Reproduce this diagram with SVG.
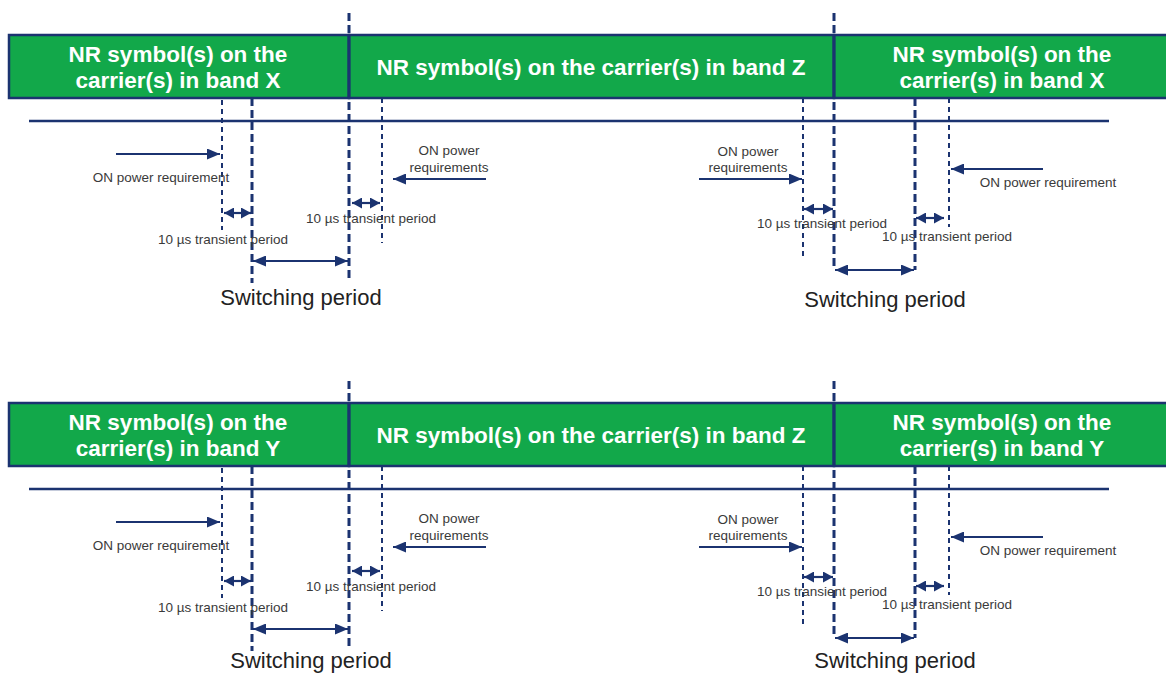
<svg xmlns="http://www.w3.org/2000/svg" width="1166" height="675" viewBox="0 0 1166 675">
<style>
.bar{fill:#12A84A;stroke:#1B3370;stroke-width:2.5}
.div{stroke:#1B3370;stroke-width:3}
.title{font-family:"Liberation Sans",Arial,sans-serif;font-weight:bold;font-size:22.5px;fill:#ffffff;text-anchor:middle}
.tl{stroke:#1B3370;stroke-width:2.5}
.thin{stroke:#1B3370;stroke-width:2;stroke-dasharray:5 4;fill:none}
.thick{stroke:#1B3370;stroke-width:3;stroke-dasharray:8 4;fill:none}
.arr{stroke:#1B3370;stroke-width:2.2;fill:none}
.lbl{font-family:"Liberation Sans",Arial,sans-serif;font-size:13.5px;fill:#3a3a3a;text-anchor:middle}
.big{font-family:"Liberation Sans",Arial,sans-serif;font-size:22px;fill:#222222;text-anchor:middle}
</style>
<defs>
<marker id="ah" viewBox="0 0 13 11" refX="13" refY="5.5" markerWidth="13" markerHeight="11" markerUnits="userSpaceOnUse" orient="auto-start-reverse">
<path d="M0,0 L13,5.5 L0,11 Z" fill="#1B3370"/>
</marker>
<marker id="ahs" viewBox="0 0 10 11" refX="10" refY="5.5" markerWidth="10" markerHeight="11" markerUnits="userSpaceOnUse" orient="auto-start-reverse">
<path d="M0,0 L10,5.5 L0,11 Z" fill="#1B3370"/>
</marker>
</defs>
<rect width="1166" height="675" fill="#ffffff"/>

<g id="panel-top">
<g id="bar-top-x1"><rect class="bar" x="9" y="35" width="340" height="63"/>
<text class="title" x="178" y="62">NR symbol(s) on the</text>
<text class="title" x="178" y="88">carrier(s) in band X</text></g>
<g id="bar-top-z"><rect class="bar" x="349" y="35" width="485" height="63"/>
<text class="title" x="591" y="75">NR symbol(s) on the carrier(s) in band Z</text></g>
<g id="bar-top-x2"><rect class="bar" x="834" y="35" width="340" height="63"/>
<text class="title" x="1002" y="62">NR symbol(s) on the</text>
<text class="title" x="1002" y="88">carrier(s) in band X</text></g>
<g id="connectors-top">
<line class="div" x1="349" y1="35" x2="349" y2="98"/>
<line class="div" x1="834" y1="35" x2="834" y2="98"/>
<line class="tl" x1="29" y1="121" x2="1109" y2="121"/>
<line class="thick" x1="349" y1="13" x2="349" y2="33"/>
<line class="thick" x1="834" y1="13" x2="834" y2="33"/>
<line class="thin" x1="222" y1="100" x2="222" y2="230"/>
<line class="thick" x1="252" y1="98" x2="252" y2="283"/>
<line class="thick" x1="349" y1="102" x2="349" y2="278"/>
<line class="thin" x1="382" y1="98" x2="382" y2="243"/>
<line class="thin" x1="803" y1="98" x2="803" y2="257"/>
<line class="thick" x1="834" y1="102" x2="834" y2="270"/>
<line class="thick" x1="915" y1="98" x2="915" y2="270"/>
<line class="thin" x1="949" y1="98" x2="949" y2="227"/>
<line class="arr" x1="116" y1="154" x2="220" y2="154" marker-end="url(#ah)"/>
<line class="arr" x1="486" y1="179" x2="393" y2="179" marker-end="url(#ah)"/>
<line class="arr" x1="224" y1="213" x2="251" y2="213" marker-start="url(#ahs)" marker-end="url(#ahs)"/>
<line class="arr" x1="352" y1="203" x2="380" y2="203" marker-start="url(#ahs)" marker-end="url(#ahs)"/>
<line class="arr" x1="253" y1="261" x2="348" y2="261" marker-start="url(#ah)" marker-end="url(#ah)"/>
<line class="arr" x1="699" y1="179" x2="802" y2="179" marker-end="url(#ah)"/>
<line class="arr" x1="1043" y1="169" x2="951" y2="169" marker-end="url(#ah)"/>
<line class="arr" x1="804" y1="209" x2="833" y2="209" marker-start="url(#ahs)" marker-end="url(#ahs)"/>
<line class="arr" x1="916" y1="218" x2="944" y2="218" marker-start="url(#ahs)" marker-end="url(#ahs)"/>
<line class="arr" x1="835" y1="270" x2="914" y2="270" marker-start="url(#ah)" marker-end="url(#ah)"/>
</g>
<g id="labels-top">
<text class="lbl" x="161" y="182">ON power requirement</text>
<text class="lbl" x="449" y="155">ON power</text>
<text class="lbl" x="449" y="172">requirements</text>
<text class="lbl" x="223" y="244">10 µs transient period</text>
<text class="lbl" x="371" y="223">10 µs transient period</text>
<text class="big" x="301" y="305">Switching period</text>
<text class="lbl" x="748" y="156">ON power</text>
<text class="lbl" x="748" y="172">requirements</text>
<text class="lbl" x="1048" y="187">ON power requirement</text>
<text class="lbl" x="822" y="228">10 µs transient period</text>
<text class="lbl" x="947" y="241">10 µs transient period</text>
<text class="big" x="885" y="307">Switching period</text>
</g>
</g>

<g id="panel-bottom" transform="translate(0,368)">
<g id="bar-bot-y1"><rect class="bar" x="9" y="35" width="340" height="63"/>
<text class="title" x="178" y="62">NR symbol(s) on the</text>
<text class="title" x="178" y="88">carrier(s) in band Y</text></g>
<g id="bar-bot-z"><rect class="bar" x="349" y="35" width="485" height="63"/>
<text class="title" x="591" y="75">NR symbol(s) on the carrier(s) in band Z</text></g>
<g id="bar-bot-y2"><rect class="bar" x="834" y="35" width="340" height="63"/>
<text class="title" x="1002" y="62">NR symbol(s) on the</text>
<text class="title" x="1002" y="88">carrier(s) in band Y</text></g>
<g id="connectors-bottom">
<line class="div" x1="349" y1="35" x2="349" y2="98"/>
<line class="div" x1="834" y1="35" x2="834" y2="98"/>
<line class="tl" x1="29" y1="121" x2="1109" y2="121"/>
<line class="thick" x1="349" y1="13" x2="349" y2="33"/>
<line class="thick" x1="834" y1="13" x2="834" y2="33"/>
<line class="thin" x1="222" y1="100" x2="222" y2="230"/>
<line class="thick" x1="252" y1="98" x2="252" y2="283"/>
<line class="thick" x1="349" y1="102" x2="349" y2="278"/>
<line class="thin" x1="382" y1="98" x2="382" y2="243"/>
<line class="thin" x1="803" y1="98" x2="803" y2="257"/>
<line class="thick" x1="834" y1="102" x2="834" y2="270"/>
<line class="thick" x1="915" y1="98" x2="915" y2="270"/>
<line class="thin" x1="949" y1="98" x2="949" y2="227"/>
<line class="arr" x1="116" y1="154" x2="220" y2="154" marker-end="url(#ah)"/>
<line class="arr" x1="486" y1="179" x2="393" y2="179" marker-end="url(#ah)"/>
<line class="arr" x1="224" y1="213" x2="251" y2="213" marker-start="url(#ahs)" marker-end="url(#ahs)"/>
<line class="arr" x1="352" y1="203" x2="380" y2="203" marker-start="url(#ahs)" marker-end="url(#ahs)"/>
<line class="arr" x1="253" y1="261" x2="348" y2="261" marker-start="url(#ah)" marker-end="url(#ah)"/>
<line class="arr" x1="699" y1="179" x2="802" y2="179" marker-end="url(#ah)"/>
<line class="arr" x1="1043" y1="169" x2="951" y2="169" marker-end="url(#ah)"/>
<line class="arr" x1="804" y1="209" x2="833" y2="209" marker-start="url(#ahs)" marker-end="url(#ahs)"/>
<line class="arr" x1="916" y1="218" x2="944" y2="218" marker-start="url(#ahs)" marker-end="url(#ahs)"/>
<line class="arr" x1="835" y1="270" x2="914" y2="270" marker-start="url(#ah)" marker-end="url(#ah)"/>
</g>
<g id="labels-bottom">
<text class="lbl" x="161" y="182">ON power requirement</text>
<text class="lbl" x="449" y="155">ON power</text>
<text class="lbl" x="449" y="172">requirements</text>
<text class="lbl" x="223" y="244">10 µs transient period</text>
<text class="lbl" x="371" y="223">10 µs transient period</text>
<text class="big" x="311" y="300">Switching period</text>
<text class="lbl" x="748" y="156">ON power</text>
<text class="lbl" x="748" y="172">requirements</text>
<text class="lbl" x="1048" y="187">ON power requirement</text>
<text class="lbl" x="822" y="228">10 µs transient period</text>
<text class="lbl" x="947" y="241">10 µs transient period</text>
<text class="big" x="895" y="300">Switching period</text>
</g>
</g>
</svg>
